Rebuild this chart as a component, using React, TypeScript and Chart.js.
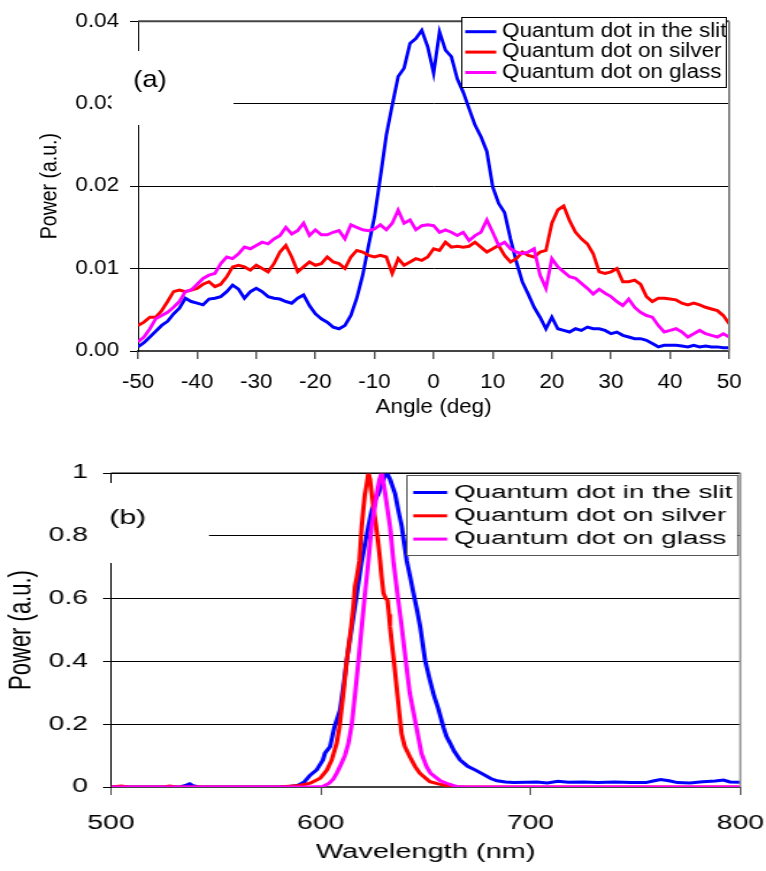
import React, { useEffect, useRef } from "react";
import { Chart, registerables } from "chart.js";

Chart.register(...registerables);

const FONT = "'Liberation Sans', Arial, Helvetica, sans-serif";

const seriesNames = ["Quantum dot in the slit", "Quantum dot on silver", "Quantum dot on glass"];
const seriesColors = ["#0000ff", "#ff0000", "#ff00ff"];

// ---------- (a) angular power ----------
const angles = [
  -50, -49, -48, -47, -46, -45, -44, -43, -42, -41,
  -40, -39, -38, -37, -36, -35, -34, -33, -32, -31,
  -30, -29, -28, -27, -26, -25, -24, -23, -22, -21,
  -20, -19, -18, -17, -16, -15, -14, -13, -12, -11,
  -10, -9, -8, -7, -6, -5, -4, -3, -2, -1,
  0, 1, 2, 3, 4, 5, 6, 7, 8, 9,
  10, 11, 12, 13, 14, 15, 16, 17, 18, 19,
  20, 21, 22, 23, 24, 25, 26, 27, 28, 29,
  30, 31, 32, 33, 34, 35, 36, 37, 38, 39,
  40, 41, 42, 43, 44, 45, 46, 47, 48, 49, 50,
];

const slitAngular = [
  0.0005, 0.0010, 0.0017, 0.0024, 0.0031, 0.0036, 0.0045, 0.0052, 0.0064, 0.0060,
  0.0058, 0.0056, 0.0063, 0.0064, 0.0066, 0.0072, 0.0080, 0.0075, 0.0064, 0.0072,
  0.0076, 0.0072, 0.0066, 0.0064, 0.0063, 0.0060, 0.0058, 0.0064, 0.0068, 0.0055,
  0.0045, 0.0039, 0.0035, 0.0029, 0.0027, 0.0031, 0.0043, 0.0064, 0.0092, 0.0128,
  0.0163, 0.0211, 0.0262, 0.0298, 0.0333, 0.0343, 0.0373, 0.0379, 0.0389, 0.0369,
  0.0337, 0.0387, 0.0365, 0.0357, 0.0330, 0.0314, 0.0294, 0.0274, 0.0260, 0.0242,
  0.0199, 0.0179, 0.0168, 0.0136, 0.0108, 0.0084, 0.0069, 0.0053, 0.0041, 0.0027,
  0.0041, 0.0027, 0.0025, 0.0023, 0.0027, 0.0025, 0.0029, 0.0027, 0.0027, 0.0025,
  0.0021, 0.0023, 0.0019, 0.0017, 0.0015, 0.0015, 0.0013, 0.0009, 0.0005, 0.0007,
  0.0007, 0.0007, 0.0006, 0.0005, 0.0007, 0.0005, 0.0006, 0.0005, 0.0005, 0.0004, 0.0004,
];

const silverAngular = [
  0.0031, 0.0035, 0.0041, 0.0041, 0.0049, 0.0060, 0.0072, 0.0074, 0.0072, 0.0074,
  0.0076, 0.0081, 0.0084, 0.0078, 0.0081, 0.0090, 0.0102, 0.0104, 0.0102, 0.0098,
  0.0104, 0.0100, 0.0096, 0.0106, 0.0120, 0.0128, 0.0114, 0.0096, 0.0102, 0.0108,
  0.0104, 0.0106, 0.0114, 0.0108, 0.0106, 0.0100, 0.0114, 0.0122, 0.0120, 0.0116,
  0.0114, 0.0116, 0.0114, 0.0094, 0.0112, 0.0104, 0.0108, 0.0112, 0.0110, 0.0114,
  0.0124, 0.0122, 0.0132, 0.0126, 0.0127, 0.0126, 0.0127, 0.0132, 0.0126, 0.0120,
  0.0124, 0.0128, 0.0116, 0.0108, 0.0112, 0.0120, 0.0116, 0.0114, 0.0120, 0.0122,
  0.0155, 0.0171, 0.0176, 0.0158, 0.0144, 0.0136, 0.0130, 0.0118, 0.0096, 0.0094,
  0.0096, 0.0100, 0.0084, 0.0084, 0.0086, 0.0081, 0.0066, 0.0060, 0.0064, 0.0064,
  0.0063, 0.0062, 0.0058, 0.0056, 0.0058, 0.0056, 0.0053, 0.0051, 0.0049, 0.0043, 0.0033,
];

const glassAngular = [
  0.0011, 0.0017, 0.0027, 0.0039, 0.0043, 0.0047, 0.0053, 0.0060, 0.0072, 0.0074,
  0.0081, 0.0088, 0.0092, 0.0094, 0.0106, 0.0114, 0.0112, 0.0118, 0.0126, 0.0124,
  0.0128, 0.0132, 0.0130, 0.0136, 0.0140, 0.0150, 0.0142, 0.0146, 0.0155, 0.0140,
  0.0147, 0.0141, 0.0141, 0.0144, 0.0146, 0.0136, 0.0153, 0.0150, 0.0147, 0.0146,
  0.0148, 0.0153, 0.0147, 0.0155, 0.0171, 0.0155, 0.0159, 0.0147, 0.0152, 0.0153,
  0.0152, 0.0144, 0.0147, 0.0144, 0.0140, 0.0144, 0.0134, 0.0140, 0.0144, 0.0159,
  0.0144, 0.0128, 0.0132, 0.0124, 0.0120, 0.0118, 0.0120, 0.0124, 0.0092, 0.0076,
  0.0112, 0.0102, 0.0096, 0.0090, 0.0088, 0.0082, 0.0076, 0.0069, 0.0075, 0.0070,
  0.0066, 0.0060, 0.0055, 0.0063, 0.0053, 0.0047, 0.0043, 0.0041, 0.0031, 0.0023,
  0.0025, 0.0027, 0.0023, 0.0017, 0.0021, 0.0025, 0.0021, 0.0019, 0.0017, 0.0021, 0.0017,
];

// ---------- (b) spectra: [wavelength nm, normalized power] ----------
const slitSpectrum: number[][] = [
  [500, 0], [520, 0], [533, 0], [536, 0.006], [537.5, 0.01], [539, 0.004], [542, 0], [580, 0],
  [585, 0.002], [589, 0.005], [592, 0.015], [595, 0.038], [598, 0.054], [601, 0.086], [602, 0.108],
  [604.4, 0.128], [606.5, 0.19], [609.2, 0.245], [611, 0.33], [612.4, 0.404], [614.8, 0.51],
  [617.2, 0.617], [619.5, 0.72], [621, 0.77], [622.7, 0.83], [624.3, 0.88], [626, 0.915],
  [627.5, 0.934], [629, 0.965], [630.5, 0.99], [631.5, 1.0], [633, 0.98], [635.4, 0.934],
  [637, 0.88], [638.6, 0.83], [641, 0.72], [642.6, 0.67], [644.2, 0.617], [646, 0.56],
  [647.4, 0.51], [649.7, 0.404], [652, 0.34], [654, 0.29], [656, 0.25], [658.5, 0.19],
  [660, 0.16], [661.7, 0.139], [663.5, 0.115], [666.4, 0.086], [670, 0.066], [674, 0.053],
  [677.5, 0.04], [681, 0.027], [684, 0.02], [688, 0.016], [692, 0.014], [698, 0.015],
  [703, 0.016], [708, 0.013], [713, 0.018], [718, 0.015], [725, 0.016], [732, 0.014],
  [740, 0.016], [748, 0.014], [755, 0.014], [759, 0.02], [762, 0.024], [766, 0.02],
  [770, 0.014], [776, 0.013], [782, 0.017], [788, 0.019], [792, 0.022], [795, 0.016], [800, 0.015],
];

const silverSpectrum: number[][] = [
  [500, 0], [505, 0.003], [508, 0], [525, 0], [528, 0.003], [531, 0], [580, 0], [590, 0.005],
  [595, 0.012], [599.7, 0.028], [602.9, 0.054], [605.2, 0.086], [607.6, 0.139], [608.9, 0.19],
  [610.8, 0.3], [612.4, 0.404], [613.5, 0.46], [614.5, 0.51], [615.6, 0.58], [616.3, 0.64],
  [617.2, 0.67], [618.4, 0.72], [619, 0.78], [619.5, 0.83], [620.2, 0.88], [621, 0.93],
  [622, 0.97], [622.7, 1.0], [623.5, 0.98], [624.3, 0.934], [625.3, 0.88], [626.4, 0.83],
  [627.5, 0.77], [628.3, 0.72], [629, 0.67], [629.9, 0.617], [631, 0.6], [631.8, 0.595],
  [632.5, 0.55], [633, 0.51], [634, 0.45], [634.8, 0.404], [635.8, 0.34], [636.9, 0.27],
  [638.5, 0.17], [640, 0.13], [642.4, 0.097], [645, 0.065], [647.2, 0.044], [650, 0.028],
  [652, 0.017], [656, 0.01], [660, 0.004], [665, 0], [800, 0],
];

const glassSpectrum: number[][] = [
  [500, 0], [595, 0], [601, 0.002], [604, 0.012], [606, 0.025], [607.6, 0.044], [609.5, 0.07],
  [611.5, 0.1], [613.2, 0.139], [614.8, 0.2], [616.4, 0.3], [618, 0.404], [619.5, 0.51],
  [621.1, 0.617], [622.7, 0.72], [624.3, 0.83], [626.7, 0.934], [628, 0.98], [629.1, 1.0],
  [630.7, 0.934], [633, 0.83], [634.6, 0.72], [636.5, 0.617], [638.6, 0.51], [640.5, 0.404],
  [642.4, 0.3], [645.6, 0.19], [648, 0.107], [650.4, 0.065], [652.2, 0.045], [654.4, 0.033],
  [657, 0.02], [660, 0.012], [664.5, 0.002], [670, 0], [800, 0],
];

const angleTickValues = [-50, -40, -30, -20, -10, 0, 10, 20, 30, 40, 50];
const angularPowerTicks = ["0.00", "0.01", "0.02", "0.03", "0.04"];
const wavelengthTicks = [500, 600, 700, 800];
const spectrumPowerTicks = ["0", "0.2", "0.4", "0.6", "0.8", "1"];

// ---------- helpers ----------
type Decor = {
  mask: [number, number, number, number];
  tag: string;
  tagX: number;
  tagY: number;
  tagFont: number;
  topColor: string;
  topWidth: number;
  rightColor: string;
  rightWidth: number;
  legend: {
    x: number; y: number; w: number; h: number;
    lineX0: number; lineX1: number; textX: number;
    row0: number; rowGap: number; font: number; lw: number; border: string;
  };
};

function decorPlugin(d: Decor) {
  return {
    id: "decor",
    afterDraw(chart: any) {
      const ctx: CanvasRenderingContext2D = chart.ctx;
      const { left, right, top, bottom } = chart.chartArea;
      ctx.save();
      ctx.strokeStyle = d.topColor;
      ctx.lineWidth = d.topWidth;
      ctx.beginPath();
      ctx.moveTo(left, top);
      ctx.lineTo(right, top);
      ctx.stroke();
      ctx.strokeStyle = d.rightColor;
      ctx.lineWidth = d.rightWidth;
      ctx.beginPath();
      ctx.moveTo(right, top);
      ctx.lineTo(right, bottom);
      ctx.stroke();
      // white text box of the panel tag
      ctx.fillStyle = "#ffffff";
      ctx.fillRect(d.mask[0], d.mask[1], d.mask[2], d.mask[3]);
      ctx.fillStyle = "#000000";
      ctx.font = `${d.tagFont}px ${FONT}`;
      ctx.textAlign = "left";
      ctx.textBaseline = "middle";
      ctx.fillText(d.tag, d.tagX, d.tagY);
      // legend
      const L = d.legend;
      ctx.fillStyle = "#ffffff";
      ctx.fillRect(L.x, L.y, L.w, L.h);
      ctx.strokeStyle = L.border;
      ctx.lineWidth = 1;
      ctx.strokeRect(L.x + 0.5, L.y + 0.5, L.w, L.h);
      ctx.font = `${L.font}px ${FONT}`;
      chart.data.datasets.forEach((ds: any, i: number) => {
        const y = L.row0 + i * L.rowGap;
        ctx.strokeStyle = ds.borderColor;
        ctx.lineWidth = L.lw;
        ctx.beginPath();
        ctx.moveTo(L.lineX0, y);
        ctx.lineTo(L.lineX1, y);
        ctx.stroke();
        ctx.fillStyle = "#000000";
        ctx.fillText(ds.label, L.textX, y);
      });
      ctx.restore();
    },
  };
}

function makeAngular(canvas: HTMLCanvasElement) {
  const sets = [slitAngular, silverAngular, glassAngular];
  const tickFont = { family: FONT, size: 19.5 };
  return new Chart(canvas, {
    type: "line",
    data: {
      datasets: sets.map((vals, i) => ({
        label: seriesNames[i],
        data: angles.map((a, k) => ({ x: a, y: vals[k] })),
        borderColor: seriesColors[i],
        backgroundColor: seriesColors[i],
        borderWidth: 3,
        pointRadius: 0,
        tension: 0,
        order: 3 - i,
      })),
    },
    options: {
      responsive: false,
      animation: false,
      devicePixelRatio: 1,
      layout: { padding: { left: 0, right: 32, top: 14, bottom: 0 } },
      plugins: { legend: { display: false }, tooltip: { enabled: false } },
      scales: {
        x: {
          type: "linear",
          min: -50,
          max: 50,
          afterBuildTicks: (s: any) => { s.ticks = angleTickValues.map((v) => ({ value: v })); },
          ticks: { font: tickFont, color: "#000", padding: 12, maxRotation: 0, autoSkip: false, callback: (v: any) => String(v) },
          grid: { drawOnChartArea: false, drawTicks: true, tickLength: 8, color: "#555", lineWidth: 1.5 },
          border: { color: "#444", width: 2 },
          title: { display: true, text: "Angle (deg)", font: { family: FONT, size: 19.5 }, color: "#000", padding: { top: 0, bottom: 11 } },
          afterFit: (s: any) => { s.height = 79; s.paddingLeft = 0; s.paddingRight = 0; },
        },
        y: {
          type: "linear",
          min: 0,
          max: 0.04,
          afterBuildTicks: (s: any) => { s.ticks = angularPowerTicks.map((t) => ({ value: Number(t) })); },
          ticks: { font: tickFont, color: "#000", padding: 9.5, callback: (v: any, i: number) => angularPowerTicks[i] },
          grid: { color: "#000", lineWidth: 1, tickLength: 7 },
          border: { color: "#000", width: 1 },
          title: { display: true, text: "Power (a.u.)", font: { family: FONT, size: 19.5 }, color: "#000", padding: { top: 32, bottom: 0 } },
          afterFit: (s: any) => { s.width = 120; },
        },
      },
    },
    plugins: [
      decorPlugin({
        mask: [97, 51, 106, 74],
        tag: "(a)",
        tagX: 115.7,
        tagY: 80,
        tagFont: 24,
        topColor: "#444",
        topWidth: 2,
        rightColor: "#888",
        rightWidth: 2,
        legend: {
          x: 401, y: 17, w: 230, h: 70,
          lineX0: 404.5, lineX1: 431.5, textX: 436.5,
          row0: 31.7, rowGap: 20.4, font: 19.5, lw: 3, border: "#000",
        },
      }),
    ],
  } as any);
}

function makeSpectrum(canvas: HTMLCanvasElement) {
  const sets = [slitSpectrum, silverSpectrum, glassSpectrum];
  const tickFont = { family: FONT, size: 19.5 };
  return new Chart(canvas, {
    type: "line",
    data: {
      datasets: sets.map((pts, i) => ({
        label: seriesNames[i],
        data: pts.map((p) => ({ x: p[0], y: p[1] })),
        borderColor: seriesColors[i],
        backgroundColor: seriesColors[i],
        borderWidth: 3,
        pointRadius: 0,
        tension: 0,
        order: 3 - i,
      })),
    },
    options: {
      responsive: false,
      animation: false,
      devicePixelRatio: 1,
      layout: { padding: { left: 0, right: 17.7, top: 33, bottom: 0 } },
      plugins: { legend: { display: false }, tooltip: { enabled: false } },
      scales: {
        x: {
          type: "linear",
          min: 500,
          max: 800,
          afterBuildTicks: (s: any) => { s.ticks = wavelengthTicks.map((v) => ({ value: v })); },
          ticks: { font: tickFont, color: "#000", padding: 17, maxRotation: 0, autoSkip: false, callback: (v: any) => String(v) },
          grid: { drawOnChartArea: false, drawTicks: true, tickLength: 8, color: "#555", lineWidth: 1 },
          border: { color: "#444", width: 2 },
          title: { display: true, text: "Wavelength (nm)", font: { family: FONT, size: 20 }, color: "#000", padding: { top: 0, bottom: 6.5 } },
          afterFit: (s: any) => { s.height = 84; s.paddingLeft = 0; s.paddingRight = 0; },
        },
        y: {
          type: "linear",
          min: 0,
          max: 1,
          afterBuildTicks: (s: any) => { s.ticks = spectrumPowerTicks.map((t) => ({ value: Number(t) })); },
          ticks: { font: tickFont, color: "#000", padding: 10.3, callback: (v: any, i: number) => spectrumPowerTicks[i] },
          grid: { color: "#000", lineWidth: 1, tickLength: 5.5 },
          border: { color: "#000", width: 1 },
          title: { display: true, text: "Power (a.u.)", font: { family: FONT, size: 22 }, color: "#000", padding: { top: 2, bottom: 0 } },
          afterFit: (s: any) => { s.width = 76.5; },
        },
      },
    },
    plugins: [
      decorPlugin({
        mask: [65.5, 43, 78.6, 80],
        tag: "(b)",
        tagX: 75.2,
        tagY: 78.5,
        tagFont: 21,
        topColor: "#000",
        topWidth: 1.2,
        rightColor: "#999",
        rightWidth: 1.5,
        legend: {
          x: 280, y: 35, w: 228.3, h: 80,
          lineX0: 284.8, lineX1: 308.3, textX: 312.9,
          row0: 52.5, rowGap: 23.3, font: 19.2, lw: 3, border: "#555",
        },
      }),
    ],
  } as any);
}

export default function App() {
  const refA = useRef<HTMLCanvasElement>(null);
  const refB = useRef<HTMLCanvasElement>(null);

  useEffect(() => {
    const a = makeAngular(refA.current!);
    const b = makeSpectrum(refB.current!);
    return () => {
      a.destroy();
      b.destroy();
    };
  }, []);

  return (
    <div style={{ position: "absolute", left: 0, top: 0, width: 766, height: 871, background: "#ffffff", overflow: "hidden" }}>
      <canvas
        ref={refA}
        width={666}
        height={430}
        style={{ position: "absolute", left: 0, top: 0, width: "766px", height: "430px" }}
      />
      <canvas
        ref={refB}
        width={528}
        height={431}
        style={{ position: "absolute", left: 0, top: 440, width: "766px", height: "431px" }}
      />
    </div>
  );
}
